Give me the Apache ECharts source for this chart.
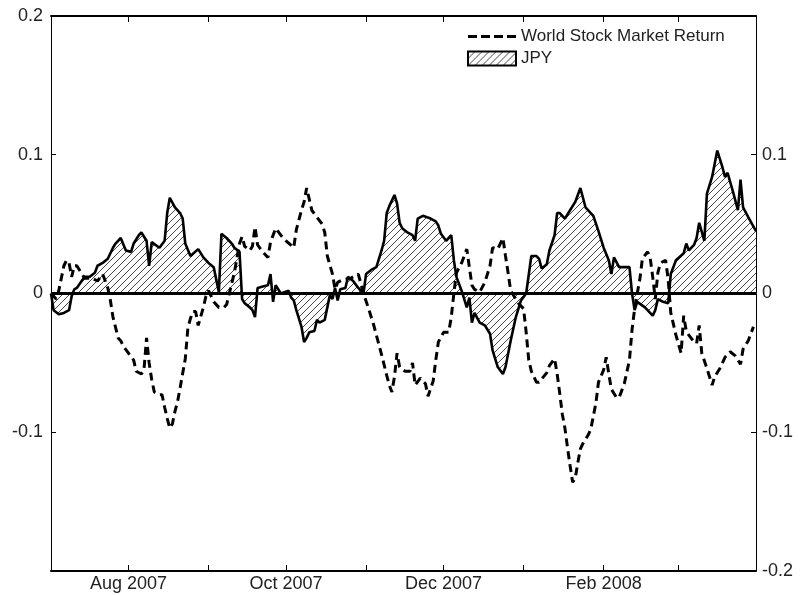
<!DOCTYPE html>
<html>
<head>
<meta charset="utf-8">
<title>JPY and World Stock Market Return</title>
<script src="https://cdn.jsdelivr.net/npm/echarts@6/dist/echarts.min.js"></script>
<style>
  html, body { margin: 0; padding: 0; background: #fff; }
  #chart { width: 801px; height: 595px; }
</style>
</head>
<body>
<div id="chart"></div>
<script>
// JPY return (solid line, hatched area to zero)
const jpyDates = [
  '2007-07-02','2007-07-03','2007-07-05','2007-07-07','2007-07-09','2007-07-10','2007-07-11','2007-07-12',
  '2007-07-15','2007-07-17','2007-07-19','2007-07-20','2007-07-22','2007-07-24','2007-07-26','2007-07-27',
  '2007-07-29','2007-07-31','2007-08-02','2007-08-03','2007-08-05','2007-08-06','2007-08-08','2007-08-09',
  '2007-08-10','2007-08-13','2007-08-15','2007-08-16','2007-08-17','2007-08-19','2007-08-21','2007-08-22',
  '2007-08-23','2007-08-25','2007-08-28','2007-08-30','2007-09-01','2007-09-03','2007-09-04','2007-09-05',
  '2007-09-06','2007-09-08','2007-09-10','2007-09-11','2007-09-13','2007-09-14','2007-09-15','2007-09-17',
  '2007-09-18','2007-09-19','2007-09-20','2007-09-22','2007-09-24','2007-09-25','2007-09-26','2007-09-27',
  '2007-09-29','2007-10-02','2007-10-03','2007-10-04','2007-10-05','2007-10-07','2007-10-08','2007-10-09',
  '2007-10-10','2007-10-12','2007-10-13','2007-10-14','2007-10-16','2007-10-17','2007-10-18','2007-10-19',
  '2007-10-20','2007-10-21','2007-10-22','2007-10-24','2007-10-25','2007-10-27','2007-10-29','2007-10-31',
  '2007-11-01','2007-11-03','2007-11-05','2007-11-07','2007-11-08','2007-11-09','2007-11-10','2007-11-12',
  '2007-11-13','2007-11-14','2007-11-15','2007-11-17','2007-11-19','2007-11-20','2007-11-21','2007-11-23',
  '2007-11-26','2007-11-28','2007-11-29','2007-11-30','2007-12-02','2007-12-03','2007-12-04','2007-12-05',
  '2007-12-06','2007-12-08','2007-12-10','2007-12-11','2007-12-12','2007-12-13','2007-12-15','2007-12-17',
  '2007-12-19','2007-12-20','2007-12-22','2007-12-24','2007-12-25','2007-12-27','2007-12-29','2007-12-31',
  '2008-01-02','2008-01-04','2008-01-06','2008-01-07','2008-01-08','2008-01-10','2008-01-11','2008-01-13',
  '2008-01-14','2008-01-15','2008-01-17','2008-01-19','2008-01-21','2008-01-22','2008-01-23','2008-01-24',
  '2008-01-25','2008-01-27','2008-01-28','2008-01-30','2008-02-01','2008-02-03','2008-02-04','2008-02-05',
  '2008-02-07','2008-02-09','2008-02-11','2008-02-12','2008-02-13','2008-02-14','2008-02-17','2008-02-20',
  '2008-02-21','2008-02-22','2008-02-24','2008-02-26','2008-02-27','2008-02-29','2008-03-03','2008-03-04',
  '2008-03-05','2008-03-06','2008-03-07','2008-03-08','2008-03-09','2008-03-11','2008-03-12','2008-03-14',
  '2008-03-16','2008-03-18','2008-03-19','2008-03-20','2008-03-22','2008-03-24','2008-03-25','2008-03-26',
  '2008-03-28','2008-03-31'
];
const jpyValues = [
  0.000,-0.012,-0.015,-0.014,-0.012,-0.002,0.003,0.004,
  0.012,0.012,0.015,0.020,0.022,0.025,0.033,0.036,
  0.040,0.031,0.030,0.036,0.042,0.044,0.038,0.020,
  0.037,0.033,0.038,0.058,0.069,0.062,0.058,0.054,
  0.036,0.027,0.032,0.026,0.022,0.019,0.010,0.001,
  0.043,0.040,0.036,0.033,0.030,-0.004,-0.007,-0.010,
  -0.012,-0.017,0.004,0.005,0.006,0.014,-0.006,0.006,
  0.000,0.002,-0.003,-0.005,-0.012,-0.024,-0.035,-0.032,
  -0.028,-0.027,-0.019,-0.021,-0.019,-0.010,-0.001,-0.004,
  0.004,-0.005,0.003,0.004,0.012,0.009,0.004,0.000,
  0.014,0.017,0.019,0.031,0.038,0.058,0.063,0.071,
  0.065,0.051,0.047,0.044,0.042,0.038,0.054,0.056,
  0.054,0.052,0.049,0.043,0.038,0.040,0.042,0.024,
  0.012,0.002,-0.010,-0.003,-0.021,-0.014,-0.021,-0.023,
  -0.029,-0.041,-0.053,-0.058,-0.053,-0.034,-0.017,-0.005,
  0.000,0.027,0.027,0.025,0.018,0.021,0.031,0.042,
  0.058,0.058,0.054,0.060,0.066,0.071,0.076,0.069,
  0.062,0.058,0.056,0.045,0.033,0.024,0.014,0.026,
  0.019,0.019,0.019,0.000,-0.012,-0.006,-0.010,-0.016,
  -0.012,-0.004,-0.006,-0.007,0.014,0.024,0.029,0.036,
  0.031,0.033,0.035,0.040,0.051,0.038,0.072,0.084,
  0.103,0.091,0.084,0.087,0.074,0.060,0.082,0.062,
  0.055,0.045
];

// World stock market return (dashed line)
const worldDates = [
  '2007-07-02','2007-07-04','2007-07-05','2007-07-06','2007-07-07','2007-07-08','2007-07-09','2007-07-10',
  '2007-07-11','2007-07-12','2007-07-15','2007-07-18','2007-07-20','2007-07-22','2007-07-24','2007-07-25',
  '2007-07-26','2007-07-28','2007-07-29','2007-07-30','2007-08-01','2007-08-03','2007-08-04','2007-08-06',
  '2007-08-07','2007-08-08','2007-08-09','2007-08-10','2007-08-11','2007-08-13','2007-08-14','2007-08-15',
  '2007-08-16','2007-08-17','2007-08-18','2007-08-19','2007-08-20','2007-08-21','2007-08-23','2007-08-24',
  '2007-08-25','2007-08-26','2007-08-27','2007-08-28','2007-08-30','2007-08-31','2007-09-01','2007-09-03',
  '2007-09-05','2007-09-07','2007-09-08','2007-09-11','2007-09-13','2007-09-14','2007-09-15','2007-09-17',
  '2007-09-18','2007-09-19','2007-09-20','2007-09-22','2007-09-24','2007-09-25','2007-09-27','2007-09-29',
  '2007-10-01','2007-10-04','2007-10-05','2007-10-07','2007-10-08','2007-10-09','2007-10-10','2007-10-11',
  '2007-10-13','2007-10-15','2007-10-16','2007-10-17','2007-10-19','2007-10-20','2007-10-21','2007-10-23',
  '2007-10-26','2007-10-29','2007-10-31','2007-11-02','2007-11-04','2007-11-05','2007-11-07','2007-11-09',
  '2007-11-10','2007-11-11','2007-11-12','2007-11-13','2007-11-14','2007-11-16','2007-11-18','2007-11-19',
  '2007-11-20','2007-11-22','2007-11-24','2007-11-25','2007-11-27','2007-11-28','2007-11-29','2007-12-01',
  '2007-12-03','2007-12-04','2007-12-05','2007-12-06','2007-12-08','2007-12-10','2007-12-11','2007-12-12',
  '2007-12-13','2007-12-15','2007-12-17','2007-12-19','2007-12-20','2007-12-22','2007-12-24','2007-12-25',
  '2007-12-26','2007-12-27','2007-12-30','2008-01-01','2008-01-02','2008-01-03','2008-01-04','2008-01-06',
  '2008-01-07','2008-01-10','2008-01-11','2008-01-13','2008-01-14','2008-01-15','2008-01-16','2008-01-17',
  '2008-01-18','2008-01-19','2008-01-20','2008-01-21','2008-01-22','2008-01-23','2008-01-24','2008-01-26',
  '2008-01-27','2008-01-29','2008-01-30','2008-02-01','2008-02-02','2008-02-03','2008-02-04','2008-02-06',
  '2008-02-07','2008-02-08','2008-02-09','2008-02-11','2008-02-12','2008-02-13','2008-02-14','2008-02-15',
  '2008-02-16','2008-02-18','2008-02-19','2008-02-20','2008-02-21','2008-02-22','2008-02-23','2008-02-25',
  '2008-02-26','2008-02-27','2008-02-29','2008-03-02','2008-03-03','2008-03-04','2008-03-05','2008-03-07',
  '2008-03-08','2008-03-09','2008-03-10','2008-03-12','2008-03-14','2008-03-15','2008-03-17','2008-03-19',
  '2008-03-21','2008-03-23','2008-03-25','2008-03-26','2008-03-28','2008-03-30'
];
const worldValues = [
  0.000,-0.004,0.002,0.011,0.020,0.024,0.022,0.012,
  0.020,0.020,0.011,0.011,0.009,0.014,0.004,-0.005,
  -0.017,-0.032,-0.034,-0.038,-0.043,-0.048,-0.056,-0.058,
  -0.055,-0.032,-0.050,-0.062,-0.071,-0.073,-0.073,-0.082,
  -0.090,-0.097,-0.094,-0.085,-0.078,-0.068,-0.047,-0.025,
  -0.018,-0.013,-0.013,-0.023,-0.010,-0.002,0.002,-0.006,
  -0.010,-0.010,-0.008,0.015,0.036,0.041,0.034,0.031,
  0.034,0.048,0.035,0.030,0.026,0.037,0.047,0.042,
  0.038,0.033,0.046,0.060,0.066,0.076,0.068,0.060,
  0.055,0.050,0.044,0.027,0.014,0.003,0.008,0.010,
  0.011,0.014,0.000,-0.011,-0.023,-0.030,-0.044,-0.059,
  -0.066,-0.071,-0.060,-0.043,-0.053,-0.056,-0.056,-0.050,
  -0.066,-0.061,-0.065,-0.074,-0.063,-0.048,-0.035,-0.028,
  -0.028,-0.017,0.000,0.015,0.022,0.032,0.019,0.006,
  0.003,0.001,0.008,0.020,0.033,0.032,0.040,0.027,
  0.015,0.002,-0.007,-0.011,-0.028,-0.048,-0.056,-0.064,
  -0.064,-0.057,-0.052,-0.047,-0.058,-0.072,-0.087,-0.097,
  -0.111,-0.124,-0.136,-0.133,-0.122,-0.112,-0.108,-0.102,
  -0.098,-0.079,-0.064,-0.055,-0.046,-0.058,-0.069,-0.075,
  -0.075,-0.070,-0.065,-0.048,-0.026,-0.011,0.000,0.010,
  0.025,0.030,0.026,0.012,-0.004,0.015,0.022,0.024,
  0.010,-0.014,-0.030,-0.043,-0.016,-0.027,-0.030,-0.035,
  -0.036,-0.023,-0.043,-0.054,-0.066,-0.060,-0.054,-0.046,
  -0.042,-0.045,-0.051,-0.040,-0.034,-0.024
];

// Tick marks at each month start; month labels every other month
const monthTicks = ['2007-08-01','2007-09-01','2007-10-01','2007-11-01','2007-12-01','2008-01-01','2008-02-01','2008-03-01'];
const monthLabels = ['2007-08-01','2007-10-01','2007-12-01','2008-02-01'];
const yTicks = [-0.2, -0.1, 0, 0.1, 0.2];
const axisStart = '2007-07-02';
const axisEnd = '2008-03-31';

const monthNames = ['Jan','Feb','Mar','Apr','May','Jun','Jul','Aug','Sep','Oct','Nov','Dec'];
const toTime = s => { const p = s.split('-').map(Number); return Date.UTC(p[0], p[1] - 1, p[2]); };
const zip = (ds, vs) => ds.map((d, i) => [toTime(d), vs[i]]);

// Diagonal hatch used for the JPY area
function makeHatch() {
  const s = 7;
  const c = document.createElement('canvas');
  c.width = s; c.height = s;
  const g = c.getContext('2d');
  g.fillStyle = '#ffffff';
  g.fillRect(0, 0, s, s);
  g.strokeStyle = '#333';
  g.lineWidth = 0.9;
  g.beginPath();
  g.moveTo(0, s); g.lineTo(s, 0);
  g.moveTo(-1, 1); g.lineTo(1, -1);
  g.moveTo(s - 1, s + 1); g.lineTo(s + 1, s - 1);
  g.stroke();
  return c;
}
const hatch = { image: makeHatch(), repeat: 'repeat' };

// Dashed-line legend key: four dashes across the key box
const dashKey = 'path://M0,0M48,14M0,5.5h9v3h-9zM13,5.5h9v3h-9zM26,5.5h9v3h-9zM39,5.5h9v3h-9z';

const font = 'Liberation Sans, Arial, sans-serif';
const tickTimes = monthTicks.map(toTime);
const labelTimes = monthLabels.map(toTime);
const fmtMonth = v => {
  const d = new Date(v);
  return monthNames[d.getUTCMonth()] + ' ' + d.getUTCFullYear();
};
const fmtY = v => String(Math.round(v * 10) / 10);

// Date axis built on a numeric scale so month-start ticks can be placed exactly
const xBase = () => ({
  type: 'value',
  min: toTime(axisStart),
  max: toTime(axisEnd),
  scale: true,
  splitLine: { show: false },
  axisLine: { show: true, onZero: false, lineStyle: { color: '#000', width: 2 } },
  axisTick: { show: true, inside: true, length: 6, customValues: tickTimes, lineStyle: { color: '#000', width: 1 } }
});

const chart = echarts.init(document.getElementById('chart'), null, { renderer: 'canvas' });
chart.setOption({
  animation: false,
  backgroundColor: '#fff',
  grid: { left: 51, right: 45, top: 16, bottom: 24, containLabel: false, outerBoundsMode: 'none' },
  legend: {
    orient: 'vertical',
    left: 467,
    top: 28,
    padding: 0,
    itemGap: 5,
    itemWidth: 48,
    itemHeight: 14,
    textStyle: { fontFamily: font, fontSize: 17, color: '#222' },
    data: [
      { name: 'World Stock Market Return', icon: dashKey, itemStyle: { color: '#000', borderWidth: 0 } },
      { name: 'JPY', icon: 'rect', itemStyle: { color: hatch, borderColor: '#000', borderWidth: 2 } }
    ]
  },
  xAxis: [
    Object.assign(xBase(), {
      position: 'bottom',
      axisLabel: {
        show: true,
        customValues: labelTimes,
        formatter: fmtMonth,
        fontFamily: font, fontSize: 18, color: '#222', margin: 4
      }
    }),
    Object.assign(xBase(), { position: 'top', axisLabel: { show: false } })
  ],
  yAxis: [
    {
      type: 'value', position: 'left', min: -0.2, max: 0.2, interval: 0.1,
      splitLine: { show: false },
      axisLine: { show: true, lineStyle: { color: '#000', width: 1 } },
      axisTick: { show: true, inside: true, length: 5, lineStyle: { color: '#000' } },
      axisLabel: {
        fontFamily: font, fontSize: 18, color: '#222', margin: 8,
        formatter: v => (Math.abs(v - yTicks[0]) < 1e-9 ? '' : fmtY(v))
      }
    },
    {
      type: 'value', position: 'right', min: -0.2, max: 0.2, interval: 0.1,
      splitLine: { show: false },
      axisLine: { show: true, lineStyle: { color: '#000', width: 1 } },
      axisTick: { show: true, inside: true, length: 5, lineStyle: { color: '#000' } },
      axisLabel: {
        fontFamily: font, fontSize: 18, color: '#222', margin: 6,
        formatter: v => (Math.abs(v - yTicks[yTicks.length - 1]) < 1e-9 ? '' : fmtY(v))
      }
    }
  ],
  series: [
    {
      name: 'JPY',
      type: 'line',
      xAxisIndex: 0,
      yAxisIndex: 0,
      data: zip(jpyDates, jpyValues),
      symbol: 'none',
      lineStyle: { color: '#000', width: 2.6 },
      itemStyle: { color: '#000' },
      areaStyle: { color: hatch, opacity: 1 },
      markLine: {
        silent: true,
        symbol: ['none', 'none'],
        label: { show: false },
        lineStyle: { color: '#000', width: 3, type: 'solid' },
        data: [{ yAxis: 0 }]
      },
      z: 2
    },
    {
      name: 'World Stock Market Return',
      type: 'line',
      xAxisIndex: 0,
      yAxisIndex: 0,
      data: zip(worldDates, worldValues),
      symbol: 'none',
      lineStyle: { color: '#000', width: 3, type: [8, 5] },
      itemStyle: { color: '#000' },
      z: 3
    }
  ]
});
</script>
</body>
</html>
